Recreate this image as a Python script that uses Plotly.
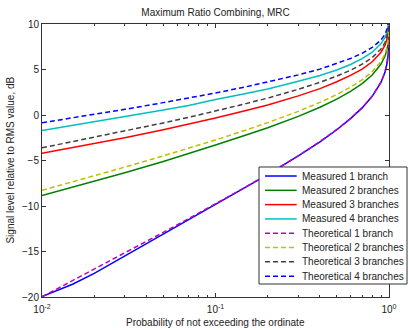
import plotly.graph_objects as go

# Probability grid (x values)
prob = [0.01, 0.015, 0.02, 0.03, 0.05, 0.07, 0.1, 0.15, 0.2, 0.3, 0.4, 0.5,
        0.6, 0.7, 0.8, 0.9, 0.95, 0.98, 0.99, 0.995, 0.999, 0.9999]

# Measured curves (dB relative to RMS)
meas_1 = [-19.95, -18.6, -17.4, -15.5, -13.1, -11.55, -9.85, -7.95, -6.55, -4.5, -2.95, -1.62,
          -0.4, 0.78, 2.05, 3.6, 4.75, 5.9, 6.6, 7.2, 8.35, 9.7]
meas_2 = [-8.85, -7.95, -7.3, -6.35, -5.1, -4.25, -3.3, -2.2, -1.4, -0.15, 0.85, 1.75,
          2.6, 3.45, 4.4, 5.6, 6.5, 7.45, 8.05, 8.6, 9.6, 10.7]
meas_3 = [-4.2, -3.6, -3.15, -2.5, -1.62, -1.0, -0.33, 0.5, 1.1, 2.1, 2.9, 3.65,
          4.35, 5.05, 5.85, 6.9, 7.7, 8.55, 9.1, 9.55, 10.4, 11.5]
meas_4 = [-1.7, -1.15, -0.75, -0.2, 0.55, 1.05, 1.7, 2.35, 2.85, 3.7, 4.35, 4.95,
          5.55, 6.2, 6.9, 7.85, 8.55, 9.3, 9.8, 10.2, 10.9, 11.8]

# Theoretical curves (dB relative to RMS)
theo_1 = [-19.98, -18.21, -16.95, -15.16, -12.90, -11.39, -9.77, -7.89, -6.51, -4.48, -2.92, -1.59,
          -0.38, 0.81, 2.07, 3.62, 4.77, 5.92, 6.63, 7.24, 8.39, 9.64]
theo_2 = [-8.28, -7.35, -6.68, -5.73, -4.49, -3.66, -2.74, -1.65, -0.84, 0.40, 1.39, 2.25,
          3.06, 3.87, 4.76, 5.90, 6.76, 7.66, 8.22, 8.71, 9.65, 10.7]
theo_3 = [-3.61, -2.94, -2.46, -1.77, -0.87, -0.26, 0.42, 1.25, 1.86, 2.82, 3.59, 4.27,
          4.92, 5.58, 6.31, 7.26, 7.99, 8.76, 9.25, 9.67, 10.5, 11.5]
theo_4 = [-0.85, -0.32, 0.07, 0.62, 1.36, 1.86, 2.42, 3.10, 3.61, 4.41, 5.04, 5.65,
          6.21, 6.78, 7.42, 8.25, 8.90, 9.58, 10.02, 10.4, 11.1, 12.0]

names = ["Measured 1 branch", "Measured 2 branches", "Measured 3 branches", "Measured 4 branches",
         "Theoretical 1 branch", "Theoretical 2 branches", "Theoretical 3 branches", "Theoretical 4 branches"]
series = [meas_1, meas_2, meas_3, meas_4, theo_1, theo_2, theo_3, theo_4]
colors = ["#0000ff", "#008000", "#ff0000", "#00bfbf", "#bf00bf", "#bfbf00", "#404040", "#0000ff"]
dashes = ["solid"] * 4 + ["5px,3px"] * 4

x_tickvals = [0.01, 0.1, 1]
x_ticktext = ["10<sup>-2</sup>", "10<sup>-1</sup>", "10<sup>0</sup>"]
y_tickvals = [-20, -15, -10, -5, 0, 5, 10]
minor_vals = [0.02, 0.03, 0.04, 0.05, 0.06, 0.07, 0.08, 0.09,
              0.2, 0.3, 0.4, 0.5, 0.6, 0.7, 0.8, 0.9]

fig = go.Figure()
for name, ys, c, d in zip(names, series, colors, dashes):
    fig.add_trace(go.Scatter(x=prob, y=ys, mode="lines", name=name, showlegend=False,
                             line=dict(color=c, width=1.5, dash=d)))

# Legend box drawn in paper coordinates (MATLAB style)
L_X0, L_X1, L_Y0, L_Y1 = 0.6254, 1.0519, 0.0476, 0.4762
SEG_X0, SEG_X1, TXT_X = 0.6427, 0.734, 0.744
ROW_TOP, ROW_STEP = 0.4432, 0.0524
shapes = [dict(type="rect", xref="paper", yref="paper", x0=L_X0, x1=L_X1, y0=L_Y0, y1=L_Y1,
               line=dict(color="#333333", width=1), fillcolor="white", layer="above")]
annotations = []
for i, (name, c, d) in enumerate(zip(names, colors, dashes)):
    yy = ROW_TOP - i * ROW_STEP
    shapes.append(dict(type="line", xref="paper", yref="paper", x0=SEG_X0, x1=SEG_X1, y0=yy, y1=yy,
                       line=dict(color=c, width=1.5, dash=d), layer="above"))
    annotations.append(dict(xref="paper", yref="paper", x=TXT_X, y=yy, text=name, showarrow=False,
                            xanchor="left", yanchor="middle", font=dict(size=10, color="#222222")))

# axis titles as annotations
annotations.append(dict(xref="paper", yref="paper", x=0.5, y=-0.0916, yanchor="middle", xanchor="center",
                        text="Probability of not exceeding the ordinate", showarrow=False,
                        font=dict(size=10, color="#222222")))
annotations.append(dict(xref="paper", yref="paper", x=-0.092, y=0.5, yanchor="middle", xanchor="center",
                        text="Signal level relative to RMS value, dB", showarrow=False, textangle=-90,
                        font=dict(size=10, color="#222222")))

font_family = "Liberation Sans, Arial, sans-serif"
fig.update_layout(
    width=409, height=330,
    margin=dict(l=42, r=20, t=24, b=33),
    paper_bgcolor="white", plot_bgcolor="white",
    font=dict(family=font_family, size=10, color="#222222"),
    title=dict(text="Maximum Ratio Combining, MRC", x=0.527, xanchor="center",
               y=0.962, yanchor="middle", font=dict(size=10, color="#222222")),
    showlegend=False,
    shapes=shapes,
    annotations=annotations,
)
fig.update_xaxes(
    type="log", range=[-2, 0], showgrid=False, zeroline=False, automargin=False,
    showline=True, linecolor="#333333", linewidth=1, mirror="allticks",
    ticks="inside", ticklen=4, tickcolor="#333333",
    tickvals=x_tickvals, ticktext=x_ticktext, ticklabelstandoff=3,
    minor=dict(tickvals=minor_vals, ticks="inside", ticklen=2, tickcolor="#333333", showgrid=False),
    tickfont=dict(size=10),
)
fig.update_yaxes(
    range=[-20, 10], showgrid=False, zeroline=False, automargin=False,
    showline=True, linecolor="#333333", linewidth=1, mirror="allticks",
    ticks="inside", ticklen=4, tickcolor="#333333",
    tickvals=y_tickvals,
    tickfont=dict(size=10),
)
fig.write_html("out.html")
